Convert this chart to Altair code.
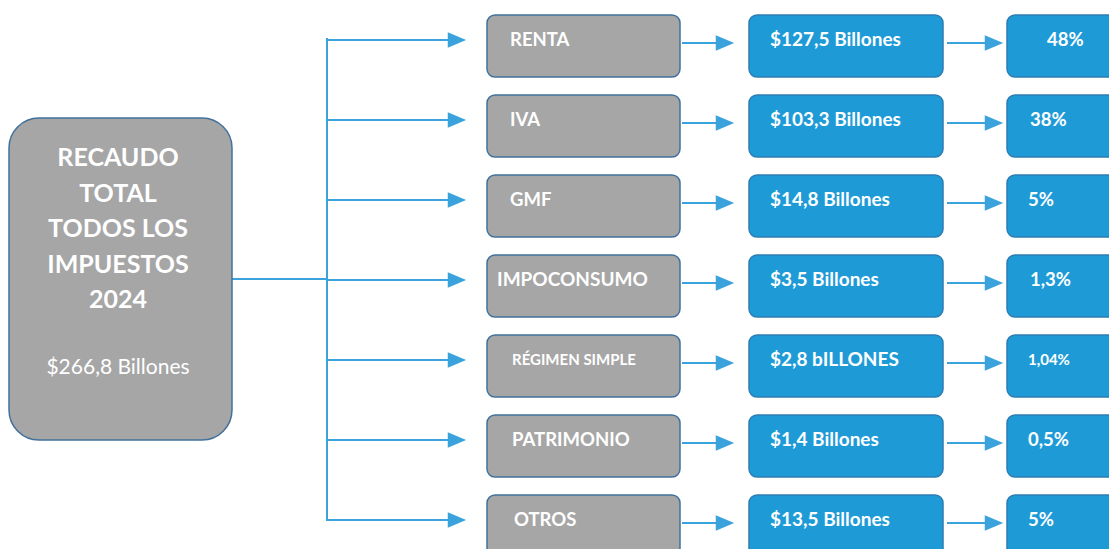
import altair as alt
import pandas as pd

# ---------------- data ----------------
total_lines = ["RECAUDO", "TOTAL", "TODOS LOS", "IMPUESTOS", "2024"]
total_value = "$266,8 Billones"
impuestos = ["RENTA", "IVA", "GMF", "IMPOCONSUMO", "RÉGIMEN SIMPLE", "PATRIMONIO", "OTROS"]
montos = ["$127,5 Billones", "$103,3 Billones", "$14,8 Billones", "$3,5 Billones",
          "$2,8 bILLONES", "$1,4 Billones", "$13,5 Billones"]
porcentajes = ["48%", "38%", "5%", "1,3%", "1,04%", "0,5%", "5%"]

# ---------------- styles / layout ----------------
name_sizes = [18.5, 18.5, 18.5, 19, 15, 18.5, 18.5]
name_x = [510, 510, 510, 497, 512, 512, 514]
pct_sizes = [18.5, 18.5, 18.5, 18.5, 15, 18.5, 18.5]
pct_x = [1047, 1030, 1028, 1030, 1028, 1028, 1028]
W, H = 1101, 541
ROW0, STEP, BOX_H = 15, 80, 62
GRAY, GRAY_BORDER = "#A6A6A6", "#41719C"
BLUE, BLUE_BORDER = "#1E9BD7", "#2D7DB3"
LINE = "#3AA3DC"
FONT = "Lato"

xs = alt.Scale(domain=[8, 8 + W])
ys = alt.Scale(domain=[8, 8 + H], reverse=True)


def X(f):
    return alt.X(f, type="quantitative", scale=xs, axis=None)


def Y(f):
    return alt.Y(f, type="quantitative", scale=ys, axis=None)


n = len(impuestos)
rows = pd.DataFrame({
    "impuesto": impuestos,
    "monto": montos,
    "pct": porcentajes,
    "nsize": name_sizes,
    "psize": pct_sizes,
    "nx": name_x,
    "px": pct_x,
    "i": range(n),
})
rows["top"] = ROW0 + STEP * rows["i"]
rows["bot"] = rows["top"] + BOX_H
rows["mid"] = rows["top"] + 25

# main box
main = pd.DataFrame({"x": [9], "x2": [232], "y": [118], "y2": [440]})
main_box = alt.Chart(main).mark_rect(cornerRadius=30, fill=GRAY, stroke=GRAY_BORDER,
                                     strokeWidth=1.5).encode(
    x=X("x"), x2="x2", y=Y("y"), y2="y2")

tl = pd.DataFrame({"t": total_lines, "k": range(len(total_lines))})
tl["x"] = 118
tl["y"] = 158 + 35.5 * tl["k"]
title_txt = alt.Chart(tl).mark_text(font=FONT, fontSize=25, fontWeight="bold",
                                    color="white", baseline="middle").encode(
    x=X("x"), y=Y("y"), text="t:N")
val_txt = alt.Chart(pd.DataFrame({"t": [total_value], "x": [118], "y": [368]})).mark_text(
    font=FONT, fontSize=21, color="white", baseline="middle").encode(
    x=X("x"), y=Y("y"), text="t:N")

# connector lines
seg = [
    {"x": 232, "x2": 327, "y": 279, "y2": 279},
    {"x": 327, "x2": 327, "y": 38, "y2": 521},
]
for i in range(n):
    yb = 40 + STEP * i
    seg.append({"x": 327, "x2": 452, "y": yb, "y2": yb})
    ym = 43 + STEP * i
    seg.append({"x": 682, "x2": 720, "y": ym, "y2": ym})
    seg.append({"x": 947, "x2": 989, "y": ym, "y2": ym})
segs = pd.DataFrame(seg)
lines = alt.Chart(segs).mark_rule(color=LINE, strokeWidth=2).encode(
    x=X("x"), x2="x2", y=Y("y"), y2="y2")

heads = []
for i in range(n):
    heads.append({"x": 457, "y": 40 + STEP * i})
    heads.append({"x": 725, "y": 43 + STEP * i})
    heads.append({"x": 994, "y": 43 + STEP * i})
heads = pd.DataFrame(heads)
arrow = alt.Chart(heads).mark_point(shape="M-1,-0.85L1,0L-1,0.85Z", size=340, filled=True,
                                    fill=LINE, opacity=1, strokeWidth=0).encode(
    x=X("x"), y=Y("y"))

# boxes
gray_boxes = alt.Chart(rows).mark_rect(cornerRadius=8, fill=GRAY, stroke=GRAY_BORDER,
                                       strokeWidth=1.5).encode(
    x=alt.X(datum=487, type="quantitative", scale=xs, axis=None), x2=alt.datum(680),
    y=Y("top"), y2="bot")
blue_boxes = alt.Chart(rows).mark_rect(cornerRadius=8, fill=BLUE, stroke=BLUE_BORDER,
                                       strokeWidth=1.5).encode(
    x=alt.X(datum=749, type="quantitative", scale=xs, axis=None), x2=alt.datum(943),
    y=Y("top"), y2="bot")
pct_boxes = alt.Chart(rows).mark_rect(cornerRadius=8, fill=BLUE, stroke=BLUE_BORDER,
                                      strokeWidth=1.5, clip=True).encode(
    x=alt.X(datum=1007, type="quantitative", scale=xs, axis=None), x2=alt.datum(1140),
    y=Y("top"), y2="bot")

name_txt = alt.Chart(rows).mark_text(font=FONT, fontWeight="bold", color="white",
                                     align="left", baseline="middle").encode(
    x=X("nx"), y=Y("mid"),
    text="impuesto:N", size=alt.Size("nsize:Q", scale=None, legend=None))
monto_txt = alt.Chart(rows).mark_text(font=FONT, fontWeight="bold", color="white",
                                      fontSize=19, align="left", baseline="middle").encode(
    x=alt.X(datum=770, type="quantitative", scale=xs, axis=None), y=Y("mid"),
    text="monto:N")
pct_txt = alt.Chart(rows).mark_text(font=FONT, fontWeight="bold", color="white",
                                    align="left", baseline="middle").encode(
    x=X("px"), y=Y("mid"),
    text="pct:N", size=alt.Size("psize:Q", scale=None, legend=None))

chart = alt.layer(
    lines, arrow, main_box, title_txt, val_txt,
    gray_boxes, blue_boxes, pct_boxes, name_txt, monto_txt, pct_txt,
).properties(width=W, height=H, padding=0, autosize="none", background="white"
).configure_view(strokeWidth=0)

chart.save("out.html", embed_options={"renderer": "svg", "actions": False})
